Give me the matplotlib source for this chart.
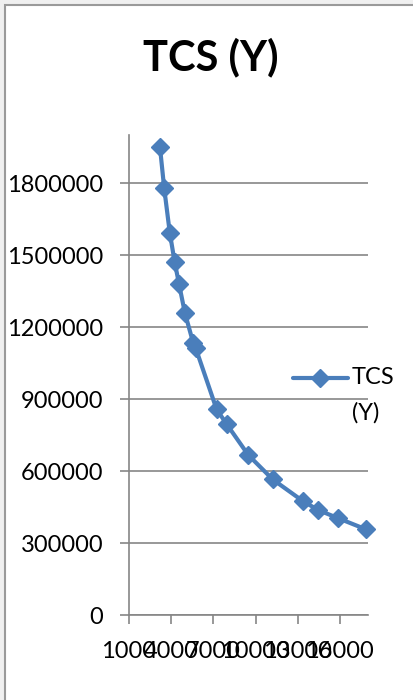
import matplotlib.pyplot as plt
from matplotlib.lines import Line2D
from matplotlib.patches import Rectangle

# data
quantity = [3200, 3500, 3900, 4250, 4560, 4970, 5560, 5750,
            7230, 7940, 9480, 11220, 13360, 14470, 15890, 17850]
tcs = [1951000, 1780000, 1593000, 1470000, 1379000, 1260000, 1135000, 1111000,
       857000, 796000, 667000, 565000, 475000, 437000, 403000, 357000]
x_ticks = [1000, 4000, 7000, 10000, 13000, 16000]
y_ticks = [0, 300000, 600000, 900000, 1200000, 1500000, 1800000]
series_name = "TCS (Y)"

blue = "#4a7ebb"
grey = "#868686"
plt.rcParams["font.family"] = ["Lato", "DejaVu Sans"]

fig = plt.figure(figsize=(4.14, 7.0), dpi=100)
fig.patch.set_facecolor("#f0f0f0")
fig.add_artist(Rectangle((5 / 414, -0.1), 1.2, (695 / 700) + 0.1,
                         transform=fig.transFigure, facecolor="white",
                         edgecolor="#9a9a9a", lw=1.5, zorder=0))

ax = fig.add_axes([129 / 414, 85 / 700, 239 / 414, 480 / 700])
ax.set_facecolor("none")
ax.plot(quantity, tcs, color=blue, lw=3, marker="D", markersize=9.5,
        markerfacecolor=blue, markeredgecolor=blue, zorder=3, clip_on=False)

ax.set_xlim(1000, 18000)
ax.set_ylim(0, 2000000)
ax.set_xticks(x_ticks)
ax.set_xticklabels([str(v) for v in x_ticks])
ax.set_yticks(y_ticks)
ax.set_yticklabels([str(v) for v in y_ticks])
ax.grid(axis="y", color=grey, lw=1.2)
ax.set_axisbelow(True)
for side in ["top", "right"]:
    ax.spines[side].set_visible(False)
for side in ["left", "bottom"]:
    ax.spines[side].set_color(grey)
    ax.spines[side].set_linewidth(1.2)
ax.tick_params(axis="both", colors=grey, length=6.5, width=1.2,
               labelsize=17, labelcolor="black", pad=12)

fig.text(211 / 414, 1 - 57 / 700, series_name, ha="center", va="center",
         fontsize=30, fontweight="bold")

# legend: handle plus wrapped label
fig.add_artist(Line2D([293 / 414, 348 / 414], [1 - 378 / 700] * 2,
                      transform=fig.transFigure, color=blue, lw=3,
                      solid_capstyle="round"))
fig.add_artist(Line2D([320 / 414], [1 - 378 / 700], transform=fig.transFigure,
                      marker="D", markersize=9.5, color=blue))
fig.text(352 / 414, 1 - 378 / 700, "TCS", ha="left", va="center", fontsize=17)
fig.text(352 / 414, 1 - 413 / 700, "(Y)", ha="left", va="center", fontsize=17)

fig.savefig("out.png", dpi=100, facecolor=fig.get_facecolor())
